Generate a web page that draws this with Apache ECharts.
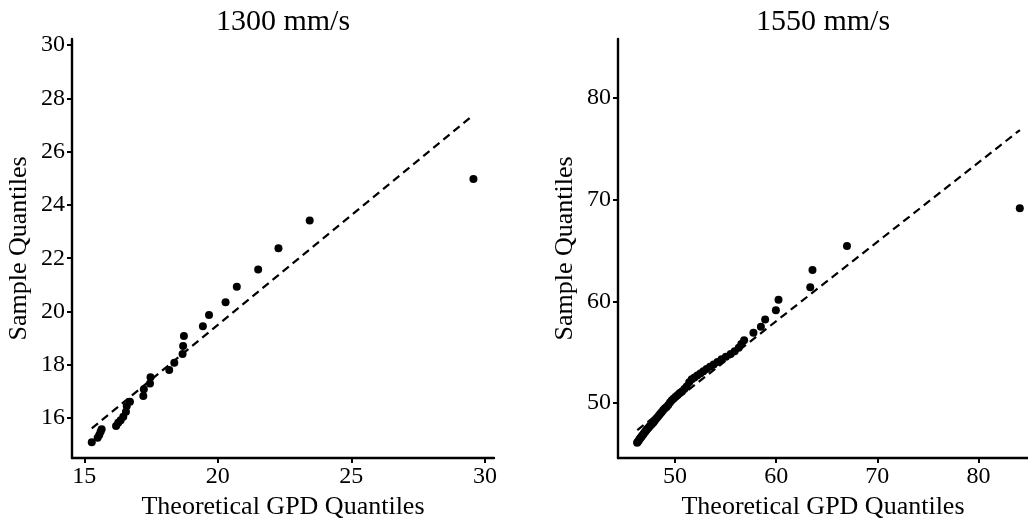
<!DOCTYPE html>
<html>
<head>
<meta charset="utf-8">
<script src="https://cdn.jsdelivr.net/npm/echarts@6/dist/echarts.min.js"></script>
<style>
  html, body { margin: 0; padding: 0; background: #fff; }
  #chart { width: 1028px; height: 520px; }
</style>
</head>
<body>
<div id="chart"></div>
<script>
// Panel titles
const panelTitles = ['1300 mm/s', '1550 mm/s'];
const xAxisTitle = 'Theoretical GPD Quantiles';
const yAxisTitle = 'Sample Quantiles';

// 1300 mm/s: theoretical vs sample quantiles
const theo1300 = [15.28, 15.50, 15.56, 15.61, 15.65, 16.19, 16.27, 16.36, 16.46, 16.56,
  16.59, 16.71, 17.21, 17.23, 17.46, 17.48, 18.18, 18.37, 18.68, 18.70,
  18.73, 19.44, 19.67, 20.29, 20.71, 21.51, 22.27, 23.44, 29.57];
const samp1300 = [15.09, 15.26, 15.36, 15.49, 15.58, 15.70, 15.82, 15.92, 16.05, 16.24,
  16.45, 16.61, 16.83, 17.08, 17.30, 17.53, 17.80, 18.08, 18.40, 18.70,
  19.08, 19.45, 19.87, 20.35, 20.93, 21.58, 22.37, 23.42, 24.97];
// reference line end points
const ref1300X = [15.28, 29.57];
const ref1300Y = [15.61, 27.38];

// 1550 mm/s: theoretical vs sample quantiles
const theo1550 = [46.25, 46.30, 46.38, 46.45, 46.52, 46.60, 46.68, 46.76, 46.85, 46.94,
  47.03, 47.12, 47.22, 47.32, 47.42, 47.53, 47.64, 47.76, 47.88, 48.00,
  48.13, 48.26, 48.40, 48.54, 48.69, 48.84, 49.00, 49.16, 49.33, 49.50,
  49.68, 49.87, 50.06, 50.26, 50.47, 50.69, 50.92, 51.15, 51.40, 51.65,
  51.92, 52.20, 52.50, 52.80, 53.12, 53.46, 53.82, 54.20, 54.60, 55.03,
  55.50, 55.90, 56.30, 56.55, 56.83, 57.75, 58.49, 58.91, 59.97, 60.23,
  63.37, 63.59, 67.00, 84.09];
const samp1550 = [46.10, 46.18, 46.28, 46.40, 46.50, 46.58, 46.70, 46.82, 46.92, 47.05,
  47.15, 47.28, 47.40, 47.52, 47.63, 47.78, 47.88, 48.00, 48.12, 48.28,
  48.45, 48.60, 48.78, 48.95, 49.12, 49.31, 49.48, 49.62, 49.80, 50.05,
  50.28, 50.46, 50.62, 50.80, 50.98, 51.15, 51.38, 51.62, 52.05, 52.35,
  52.52, 52.70, 52.92, 53.12, 53.35, 53.58, 53.80, 54.05, 54.30, 54.55,
  54.82, 55.10, 55.45, 55.80, 56.19, 56.91, 57.50, 58.23, 59.14, 60.16,
  61.38, 63.08, 65.44, 69.17];
const ref1550X = [46.27, 84.10];
const ref1550Y = [47.35, 76.85];

// Tick labels
const xTicks1300 = [15, 20, 25, 30];
const yTicks1300 = [16, 18, 20, 22, 24, 26, 28, 30];
const xTicks1550 = [50, 60, 70, 80];
const yTicks1550 = [50, 60, 70, 80];

const zip = (a, b) => a.map((v, i) => [v, b[i]]);
const FONT = "'Liberation Serif', 'DejaVu Serif', serif";

function axis(dim, gridIndex, min, max, ticks) {
  const isX = dim === 'x';
  return {
    type: 'value',
    gridIndex,
    min, max,
    name: isX ? xAxisTitle : yAxisTitle,
    nameLocation: 'middle',
    nameGap: isX ? 36 : 40,
    nameRotate: isX ? 0 : 90,
    nameTextStyle: { fontFamily: FONT, fontSize: 26, color: '#000' },
    axisLine: { show: true, onZero: false, lineStyle: { color: '#000', width: 2.4 } },
    axisTick: { show: true, length: 5, customValues: ticks, lineStyle: { color: '#000', width: 2 } },
    axisLabel: { customValues: ticks, fontFamily: FONT, fontSize: 24, color: '#000', margin: isX ? 7 : 7 },
    splitLine: { show: false }
  };
}

const chart = echarts.init(document.getElementById('chart'), null, { renderer: 'canvas' });
chart.setOption({
  animation: false,
  backgroundColor: '#fff',
  title: [
    { text: panelTitles[0], left: 283, top: 7, padding: 0, textAlign: 'center',
      textStyle: { fontFamily: FONT, fontSize: 30, fontWeight: 'normal', color: '#000' } },
    { text: panelTitles[1], left: 823, top: 7, padding: 0, textAlign: 'center',
      textStyle: { fontFamily: FONT, fontSize: 30, fontWeight: 'normal', color: '#000' } }
  ],
  grid: [
    { left: 72, right: 534, top: 39, bottom: 62, containLabel: false, outerBoundsMode: 'none' },
    { left: 618, right: 0, top: 39, bottom: 62, containLabel: false, outerBoundsMode: 'none' }
  ],
  xAxis: [
    axis('x', 0, 14.54, 30.34, xTicks1300),
    axis('x', 1, 44.36, 84.9, xTicks1550)
  ],
  yAxis: [
    axis('y', 0, 14.5, 30.23, yTicks1300),
    axis('y', 1, 44.6, 85.8, yTicks1550)
  ],
  series: [
    { type: 'line', xAxisIndex: 0, yAxisIndex: 0, data: zip(ref1300X, ref1300Y), symbol: 'none',
      lineStyle: { color: '#000', width: 2.2, type: [8, 5] }, z: 2 },
    { type: 'scatter', xAxisIndex: 0, yAxisIndex: 0, data: zip(theo1300, samp1300),
      symbolSize: 8, itemStyle: { color: '#000', opacity: 1 }, z: 3 },
    { type: 'line', xAxisIndex: 1, yAxisIndex: 1, data: zip(ref1550X, ref1550Y), symbol: 'none',
      lineStyle: { color: '#000', width: 2.2, type: [8, 5] }, z: 2 },
    { type: 'scatter', xAxisIndex: 1, yAxisIndex: 1, data: zip(theo1550, samp1550),
      symbolSize: 8, itemStyle: { color: '#000', opacity: 1 }, z: 3 }
  ]
});
</script>
</body>
</html>
